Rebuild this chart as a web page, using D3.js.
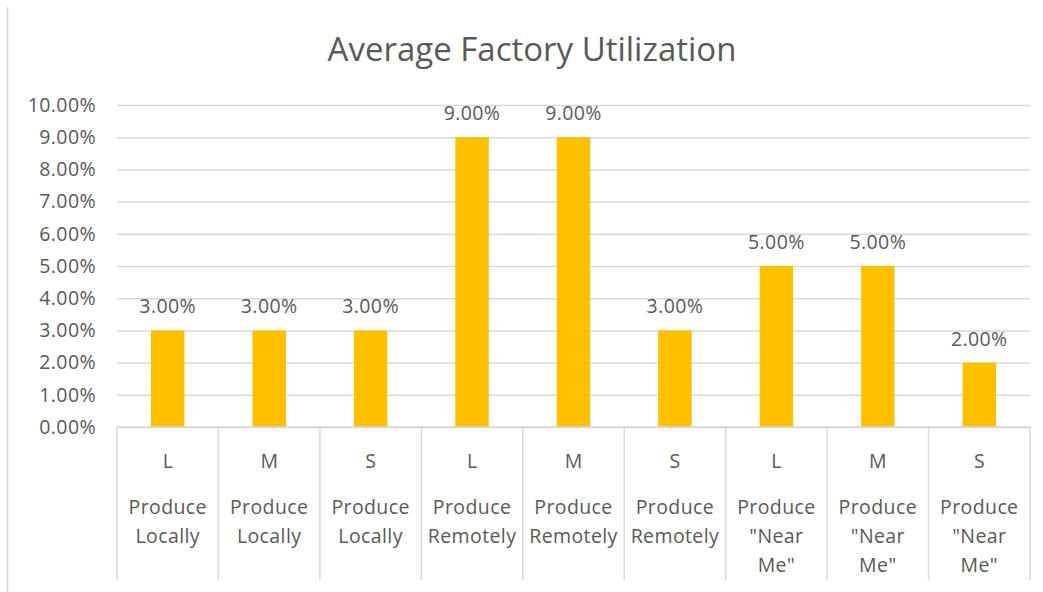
<!DOCTYPE html>
<html>
<head>
<meta charset="utf-8">
<script src="https://cdn.jsdelivr.net/npm/d3@7"></script>
<style>
  html, body { margin: 0; padding: 0; background: #fff; }
  svg { display: block; font-family: "Open Sans", "Liberation Sans", sans-serif; }
</style>
</head>
<body>
<svg id="chart" width="1043" height="592"></svg>
<script>
// Chart data
const sizes = ["L", "M", "S", "L", "M", "S", "L", "M", "S"];
const strategies = [
  ["Produce", "Locally"], ["Produce", "Locally"], ["Produce", "Locally"],
  ["Produce", "Remotely"], ["Produce", "Remotely"], ["Produce", "Remotely"],
  ["Produce", "\"Near", "Me\""], ["Produce", "\"Near", "Me\""], ["Produce", "\"Near", "Me\""]
];
const utilization = [0.03, 0.03, 0.03, 0.09, 0.09, 0.03, 0.05, 0.05, 0.02];
const yTicks = [0, 0.01, 0.02, 0.03, 0.04, 0.05, 0.06, 0.07, 0.08, 0.09, 0.10];
const title = "Average Factory Utilization";

const svg = d3.select("#chart");
const textColor = "#595959";
const gridColor = "#D9D9D9";
const barColor = "#FFC000";
const labelSize = 19.5;
const labelSpacing = 0.4;

const plotLeft = 117, plotRight = 1030, plotTop = 105, plotBottom = 427;
const keys = d3.range(utilization.length);

const x = d3.scaleBand().domain(keys).range([plotLeft, plotRight]).paddingInner(0).paddingOuter(0);
const y = d3.scaleLinear().domain([0, 0.10]).range([plotBottom, plotTop]);
const fmt = d3.format(".2%");

// chart-area left border
svg.append("line")
  .attr("x1", 7.5).attr("x2", 7.5).attr("y1", 7).attr("y2", 592)
  .attr("stroke", gridColor).attr("stroke-width", 1.5);

// title
svg.append("text")
  .attr("x", 532).attr("y", 61)
  .attr("text-anchor", "middle")
  .attr("fill", textColor)
  .attr("font-size", 33)
  .text(title);

// gridlines + y tick labels
const yAxis = d3.axisLeft(y).tickValues(yTicks).tickFormat(fmt).tickSize(-(plotRight - plotLeft)).tickPadding(21);
const gy = svg.append("g").attr("transform", `translate(${plotLeft},0)`).call(yAxis);
gy.select(".domain").remove();
gy.selectAll(".tick line").attr("stroke", gridColor).attr("stroke-width", 1.5);
gy.selectAll(".tick text")
  .attr("fill", textColor)
  .attr("font-size", labelSize)
  .attr("letter-spacing", labelSpacing)
  .attr("font-family", "Open Sans, sans-serif");

// bars
const barW = x.bandwidth() * 0.33;
svg.append("g").selectAll("rect").data(keys).join("rect")
  .attr("x", i => x(i) + (x.bandwidth() - barW) / 2)
  .attr("width", barW)
  .attr("y", i => y(utilization[i]))
  .attr("height", i => y(0) - y(utilization[i]))
  .attr("fill", barColor);

// value labels
svg.append("g").selectAll("text").data(keys).join("text")
  .attr("x", i => x(i) + x.bandwidth() / 2)
  .attr("y", i => y(utilization[i]) - 17)
  .attr("text-anchor", "middle")
  .attr("fill", textColor)
  .attr("font-size", labelSize)
  .attr("letter-spacing", labelSpacing)
  .text(i => fmt(utilization[i]));

// category axis: baseline and cell dividers
const axisBottom = 580;
const gx = svg.append("g");
gx.append("line")
  .attr("x1", plotLeft).attr("x2", plotRight).attr("y1", plotBottom).attr("y2", plotBottom)
  .attr("stroke", gridColor).attr("stroke-width", 1.5);
gx.selectAll("line.div").data(d3.range(keys.length + 1)).join("line")
  .attr("class", "div")
  .attr("x1", i => plotLeft + i * x.bandwidth()).attr("x2", i => plotLeft + i * x.bandwidth())
  .attr("y1", plotBottom).attr("y2", axisBottom)
  .attr("stroke", gridColor).attr("stroke-width", 1.5);

// size labels
gx.selectAll("text.size").data(keys).join("text")
  .attr("class", "size")
  .attr("x", i => x(i) + x.bandwidth() / 2)
  .attr("y", 468)
  .attr("text-anchor", "middle")
  .attr("fill", textColor)
  .attr("font-size", labelSize)
  .text(i => sizes[i]);

// strategy labels (multi-line)
const strat = gx.selectAll("text.strat").data(keys).join("text")
  .attr("class", "strat")
  .attr("text-anchor", "middle")
  .attr("fill", textColor)
  .attr("font-size", labelSize)
  .attr("letter-spacing", labelSpacing);
strat.each(function(i) {
  d3.select(this).selectAll("tspan").data(strategies[i]).join("tspan")
    .attr("x", x(i) + x.bandwidth() / 2)
    .attr("y", (d, j) => 514 + j * 29)
    .text(d => d);
});
</script>
</body>
</html>
